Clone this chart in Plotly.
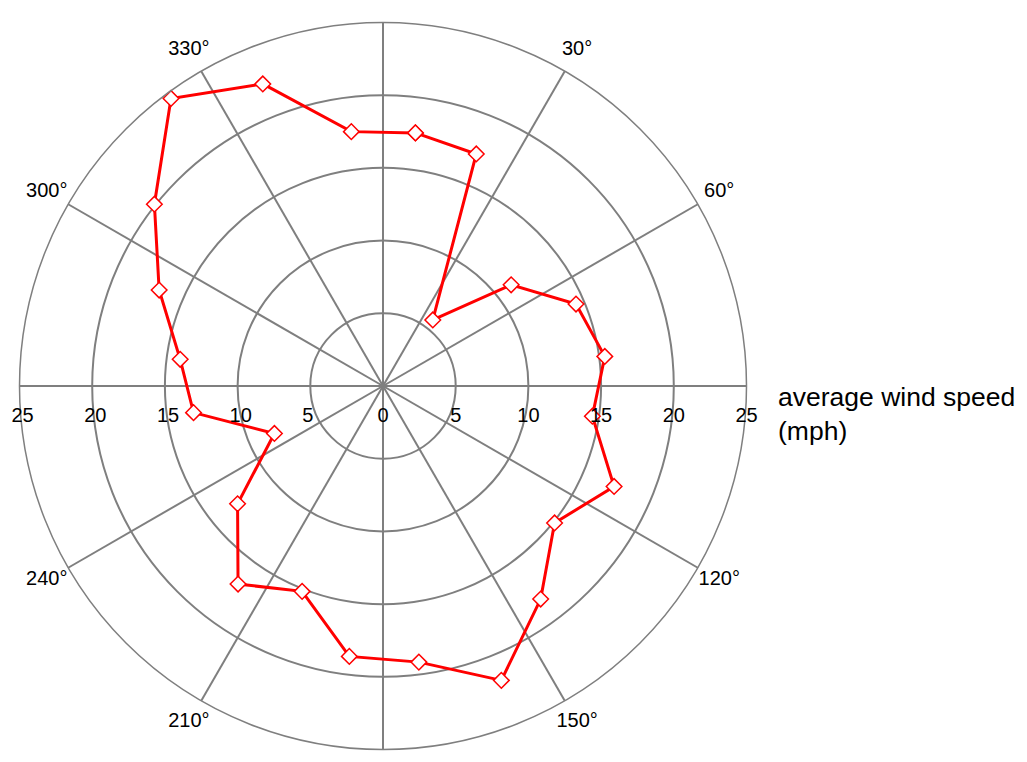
import numpy as np
import plotly.graph_objects as go

# Data
wind_dir_deg = [7.3, 21.9, 37.0, 51.7, 67.0, 82.4, 98.2, 113.5, 128.6, 143.5, 158.1, 172.6,
                187.1, 201.5, 216.2, 231.0, 246.4, 262.0, 277.5, 293.2, 308.5, 323.6, 338.3, 352.9]
wind_speed_mph = [17.55, 17.2, 5.69, 11.23, 14.42, 15.39, 14.55, 17.33, 15.1, 18.23, 21.82, 19.15,
                  18.74, 15.18, 16.88, 12.87, 8.15, 13.16, 14.07, 16.75, 20.09, 24.57, 22.36, 17.63]

grid_angles = [0, 30, 60, 90, 120, 150, 180, 210, 240, 270, 300, 330]
label_angles = [30, 60, 120, 150, 210, 240, 300, 330]
label_texts = ["30°", "60°", "120°", "150°", "210°", "240°", "300°", "330°"]
radial_ticks_right = [0, 5, 10, 15, 20, 25]
radial_ticks_left = [5, 10, 15, 20, 25]
radial_title = "average wind speed<br>(mph)"

FONT = "Arial, 'Liberation Sans', sans-serif"
GRID = "#7f7f7f"
R_MAX = 25
LABEL_R = 26.7  # radius (data units) at which the angle labels sit, just outside the rim

r_closed = wind_speed_mph + wind_speed_mph[:1]
t_closed = wind_dir_deg + wind_dir_deg[:1]

# compass angle (clockwise from north) -> cartesian helper coordinates for the labels
lab_rad = np.deg2rad(label_angles)
lab_x = LABEL_R * np.sin(lab_rad)
lab_y = LABEL_R * np.cos(lab_rad)

fig = go.Figure()
fig.add_trace(go.Scatterpolar(
    r=r_closed, theta=t_closed, mode="lines+markers",
    line=dict(color="#ff0000", width=3),
    marker=dict(symbol="diamond", size=12, color="white",
                line=dict(color="#ff0000", width=1.5)),
    subplot="polar", showlegend=False, hoverinfo="r+theta",
))
fig.add_trace(go.Scatterpolar(
    r=[0], theta=[0], mode="markers", marker=dict(opacity=0),
    subplot="polar2", showlegend=False, hoverinfo="skip",
))
# angle labels on a hidden cartesian frame sharing the polar square
fig.add_trace(go.Scatter(
    x=lab_x, y=lab_y, text=label_texts, mode="text",
    textposition="middle center", cliponaxis=False,
    textfont=dict(size=20, family=FONT, color="black"),
    xaxis="x", yaxis="y", showlegend=False, hoverinfo="skip",
))

dom_x = [11.5 / 1027, 738.5 / 1027]
dom_y = [1 - 741.5 / 762, 1 - 14.5 / 762]
dom_x2 = [3.5 / 1027, 730.5 / 1027]

fig.update_layout(
    width=1027, height=762,
    margin=dict(l=0, r=0, t=0, b=0),
    paper_bgcolor="white",
    plot_bgcolor="rgba(0,0,0,0)",
    font=dict(family=FONT, size=20, color="black"),
    xaxis=dict(domain=dom_x, range=[-R_MAX, R_MAX], visible=False, fixedrange=True),
    yaxis=dict(domain=dom_y, range=[-R_MAX, R_MAX], visible=False, fixedrange=True),
    polar=dict(
        domain=dict(x=dom_x, y=dom_y),
        bgcolor="white",
        angularaxis=dict(
            rotation=90, direction="clockwise",
            tickmode="array", tickvals=grid_angles, showticklabels=False,
            ticks="", showline=True, linecolor=GRID, linewidth=1.5,
            showgrid=True, gridcolor=GRID, gridwidth=1.5,
        ),
        radialaxis=dict(
            range=[0, R_MAX], angle=0, side="clockwise",
            tickmode="array", tickvals=radial_ticks_right,
            ticks="outside", ticklen=11, tickcolor="rgba(0,0,0,0)",
            showline=False, showgrid=True, gridcolor=GRID, gridwidth=1.5,
            tickfont=dict(size=20, family=FONT, color="black"),
        ),
    ),
    polar2=dict(
        domain=dict(x=dom_x2, y=dom_y),
        bgcolor="rgba(0,0,0,0)",
        angularaxis=dict(rotation=90, direction="clockwise", visible=False,
                         showgrid=False, showline=False),
        radialaxis=dict(
            range=[0, R_MAX], angle=180, side="counterclockwise", tickangle=180,
            tickmode="array", tickvals=radial_ticks_left,
            ticks="outside", ticklen=7, tickcolor="rgba(0,0,0,0)",
            showline=False, showgrid=False,
            tickfont=dict(size=20, family=FONT, color="black"),
        ),
    ),
    annotations=[dict(
        text=radial_title, xref="paper", yref="paper",
        x=768 / 1027, y=1 - 406 / 762, xanchor="left", yanchor="middle",
        align="left", showarrow=False,
        font=dict(size=26.5, family=FONT, color="black"),
    )],
)

fig.write_html("out.html")
